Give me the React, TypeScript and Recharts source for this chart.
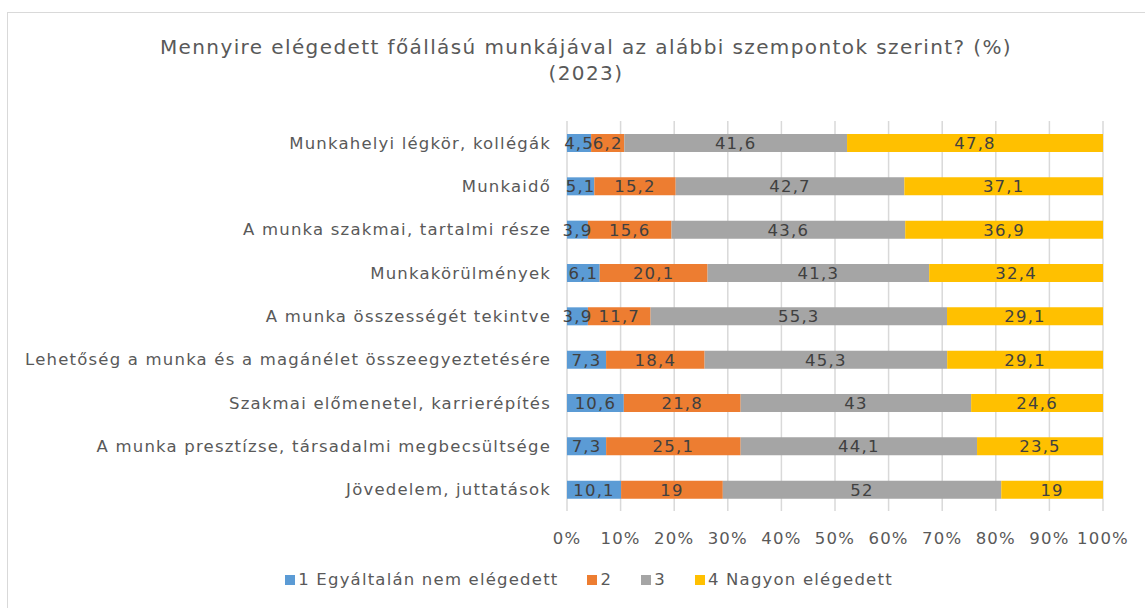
import { Bar, BarChart, CartesianGrid, LabelList, Legend, XAxis, YAxis } from "recharts";

const categories = [
  "Munkahelyi légkör, kollégák",
  "Munkaidő",
  "A munka szakmai, tartalmi része",
  "Munkakörülmények",
  "A munka összességét tekintve",
  "Lehetőség a munka és a magánélet összeegyeztetésére",
  "Szakmai előmenetel, karrierépítés",
  "A munka presztízse, társadalmi megbecsültsége",
  "Jövedelem, juttatások",
];

const notSatisfied = [4.5, 5.1, 3.9, 6.1, 3.9, 7.3, 10.6, 7.3, 10.1];
const level2 = [6.2, 15.2, 15.6, 20.1, 11.7, 18.4, 21.8, 25.1, 19];
const level3 = [41.6, 42.7, 43.6, 41.3, 55.3, 45.3, 43, 44.1, 52];
const verySatisfied = [47.8, 37.1, 36.9, 32.4, 29.1, 29.1, 24.6, 23.5, 19];

const seriesNames = ["1 Egyáltalán nem elégedett", "2", "3", "4 Nagyon elégedett"];
const seriesColors = ["#5B9BD5", "#ED7D31", "#A5A5A5", "#FFC000"];
const xTicks = [0, 0.1, 0.2, 0.3, 0.4, 0.5, 0.6, 0.7, 0.8, 0.9, 1];

const data = categories.map((name, i) => ({
  name,
  s1: notSatisfied[i],
  s2: level2[i],
  s3: level3[i],
  s4: verySatisfied[i],
}));

const FONT = "'DejaVu Sans', Verdana, sans-serif";
const TEXT = "#595959";
const FS = 16.5;
const LS = 1.2;

const fmt = (v: number) => String(v).replace(".", ",");

const LegendContent = ({ payload }: any) => (
  <div
    style={{
      display: "flex",
      justifyContent: "center",
      height: 24,
      lineHeight: "24px",
      fontFamily: FONT,
      fontSize: FS,
      letterSpacing: LS,
      color: TEXT,
      paddingLeft: 24,
    }}
  >
    {(payload || []).map((p: any, i: number) => (
      <span
        key={p.value}
        style={{ display: "inline-flex", alignItems: "center", marginLeft: i === 0 ? 0 : 29 }}
      >
        <span style={{ width: 10, height: 10, background: p.color, marginRight: 3 }} />
        {p.value}
      </span>
    ))}
  </div>
);

export default function App() {
  const keys = ["s1", "s2", "s3", "s4"];
  return (
    <div
      style={{
        position: "absolute",
        left: 7,
        top: 12,
        width: 1150,
        height: 610,
        border: "1px solid #D9D9D9",
        background: "#fff",
      }}
    >
      <div
        style={{
          position: "absolute",
          top: 21,
          left: 0,
          width: 1156,
          textAlign: "center",
          fontFamily: FONT,
          fontSize: 20,
          letterSpacing: 1.4,
          lineHeight: "26px",
          color: TEXT,
        }}
      >
        Mennyire elégedett főállású munkájával az alábbi szempontok szerint? (%)
        <br />
        (2023)
      </div>
      <BarChart
        width={1138}
        height={596}
        data={data}
        layout="vertical"
        stackOffset="expand"
        barSize={18}
        margin={{ top: 108, right: 43, left: 0, bottom: 17 }}
      >
        <CartesianGrid horizontal={false} stroke="#D9D9D9" strokeWidth={1.5} />
        <XAxis
          type="number"
          domain={[0, 1]}
          ticks={xTicks}
          tickFormatter={(v: number) => `${Math.round(v * 100)}%`}
          axisLine={false}
          tickLine={false}
          tickSize={0}
          tickMargin={21}
          height={57}
          interval={0}
          tick={{ fill: TEXT, fontSize: FS, fontFamily: FONT, letterSpacing: LS }}
        />
        <YAxis
          type="category"
          dataKey="name"
          width={559}
          axisLine={false}
          tickLine={false}
          tickSize={0}
          tickMargin={16}
          interval={0}
          tick={{ fill: TEXT, fontSize: FS, fontFamily: FONT, letterSpacing: LS }}
        />
        <Legend
          verticalAlign="bottom"
          content={<LegendContent />}
          wrapperStyle={{ left: 0, width: 1138 }}
        />
        {keys.map((k, i) => (
          <Bar
            key={k}
            dataKey={k}
            name={seriesNames[i]}
            stackId="a"
            fill={seriesColors[i]}
            isAnimationActive={false}
          >
            <LabelList
              dataKey={k}
              position="center"
              formatter={(v: any) => fmt(v)}
              fill="#404040"
              fontSize={FS}
              fontFamily={FONT}
              letterSpacing={LS}
            />
          </Bar>
        ))}
      </BarChart>
    </div>
  );
}
